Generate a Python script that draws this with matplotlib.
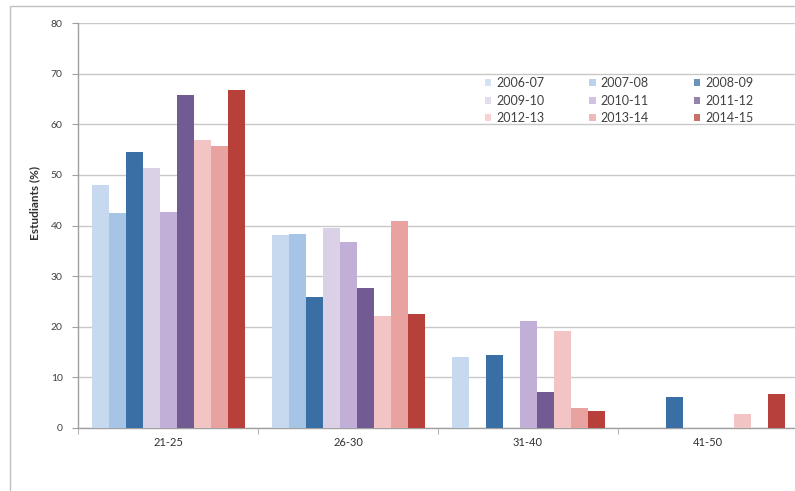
import matplotlib

matplotlib.use("Agg")
import matplotlib.pyplot as plt
import numpy as np
from matplotlib.patches import Rectangle

plt.rcParams["font.family"] = ["Lato", "DejaVu Sans"]

# ------------------------------------------------------------------ data

age_groups = ["21-25", "26-30", "31-40", "41-50"]
years = ["2006-07", "2007-08", "2008-09", "2009-10", "2010-11",
         "2011-12", "2012-13", "2013-14", "2014-15"]
colors = ["#c6d9ef", "#a6c4e6", "#3a6fa6", "#dad1e7", "#c1afd8",
          "#725a93", "#f3c4c4", "#e8a3a0", "#b8403a"]

# percentage of students per age group, one list per academic year
pct = {
    "2006-07": [48.1, 38.2, 13.9, 0.0],
    "2007-08": [42.4, 38.4, 0.0, 0.0],
    "2008-09": [54.5, 25.8, 14.3, 6.0],
    "2009-10": [51.4, 39.6, 0.0, 0.0],
    "2010-11": [42.7, 36.7, 21.1, 0.0],
    "2011-12": [65.8, 27.7, 7.0, 0.0],
    "2012-13": [56.9, 22.0, 19.1, 2.8],
    "2013-14": [55.8, 40.9, 3.8, 0.0],
    "2014-15": [66.8, 22.4, 3.4, 6.7],
}

y_ticks = [0, 10, 20, 30, 40, 50, 60, 70, 80]

# ------------------------------------------------------------------ figure

W, H = 795, 491
fig = plt.figure(figsize=(W / 100, H / 100), dpi=100)
ax = fig.add_axes([78 / W, 1 - 427.7 / H, 720 / W, (427.7 - 23.3) / H])

x = np.arange(len(age_groups))
group_w = 0.85
bar_w = group_w / len(years)
handles = []
for k, yr in enumerate(years):
    off = -group_w / 2 + (k + 0.5) * bar_w
    b = ax.bar(x + off, pct[yr], width=bar_w, color=colors[k],
               edgecolor="none", label=yr, zorder=3)
    handles.append(b)

ax.set_xlim(-0.5, len(age_groups) - 0.5)
ax.set_ylim(0, 80)
ax.set_yticks(y_ticks)
ax.set_yticklabels([str(t) for t in y_ticks], fontsize=7.5, color="#404040")
ax.yaxis.grid(True, color="#c8c8c8", lw=1.0, zorder=0)
ax.tick_params(axis="y", length=4, color="#a0a0a0", pad=7)

# category labels centred, ticks on the group boundaries
ax.set_xticks(x)
ax.set_xticklabels(age_groups, fontsize=8, color="#303030")
ax.tick_params(axis="x", length=0, pad=7)
ax.set_xticks(np.arange(len(age_groups) + 1) - 0.5, minor=True)
ax.tick_params(axis="x", which="minor", length=4, color="#a0a0a0")

for side in ["top", "right"]:
    ax.spines[side].set_visible(False)
for side in ["left", "bottom"]:
    ax.spines[side].set_color("#a0a0a0")
    ax.spines[side].set_linewidth(1.0)

fig.text(35 / W, 1 - 203 / H, "Estudiants (%)", rotation=90, ha="center",
         va="center", fontsize=8.5, fontweight="bold", color="#303030")

# legend is filled row by row in the reference
order = [0, 3, 6, 1, 4, 7, 2, 5, 8]
leg = fig.legend([handles[i] for i in order], [years[i] for i in order],
                 ncol=3, loc="upper left",
                 bbox_to_anchor=(485 / W, 1 - 77 / H), frameon=False,
                 fontsize=9, handlelength=0.5, handleheight=0.5,
                 handletextpad=0.4, columnspacing=3.6, labelspacing=0.45,
                 borderpad=0, borderaxespad=0)
for t in leg.get_texts():
    t.set_color("#404040")
for h in leg.legend_handles:
    h.set_alpha(0.75)

# outer chart frame (only top and left edges are visible in the crop)
fig.patches.append(Rectangle((10 / W, -0.1), 1.2, 1.1 - 6 / H,
                             transform=fig.transFigure, fill=False,
                             edgecolor="#c0c0c0", lw=1.0))

fig.savefig("out.png", dpi=100)
